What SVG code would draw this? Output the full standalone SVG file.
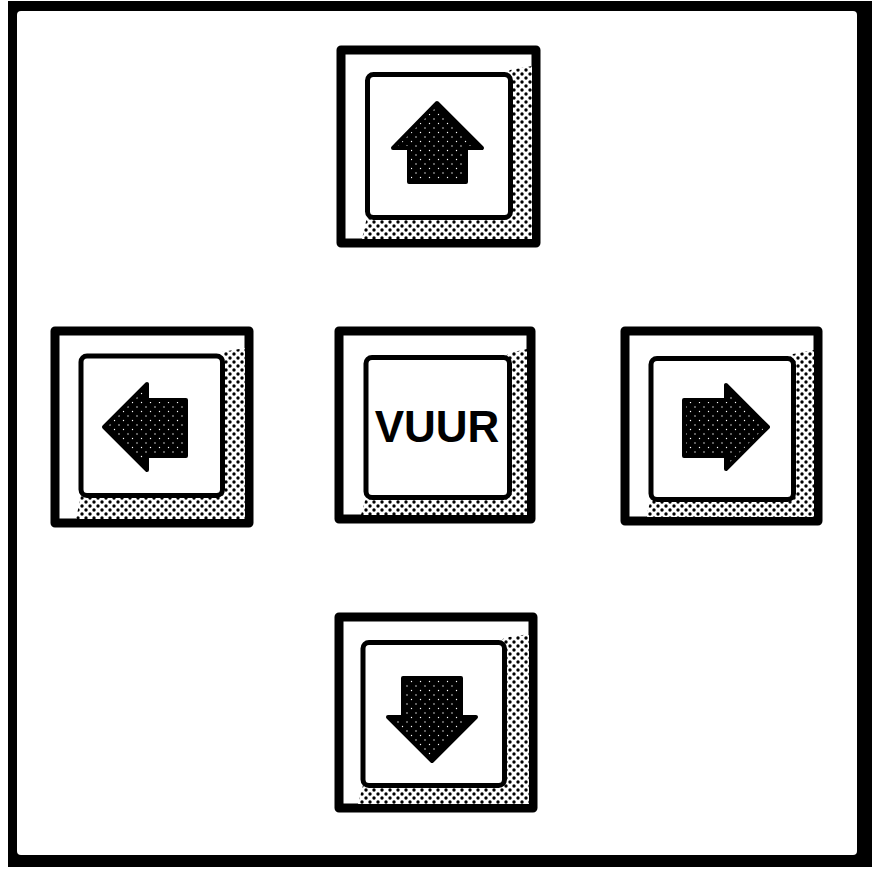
<svg xmlns="http://www.w3.org/2000/svg" width="874" height="869" viewBox="0 0 874 869">
<defs>
<pattern id="stip" width="8" height="8" patternUnits="userSpaceOnUse">
<rect width="8" height="8" fill="#fff"/>
<circle cx="2" cy="2" r="1.7" fill="#000"/>
<circle cx="6" cy="6" r="1.7" fill="#000"/>
</pattern>
<pattern id="dark" width="9" height="9" patternUnits="userSpaceOnUse">
<rect width="9" height="9" fill="#000"/>
<circle cx="2" cy="2" r="0.7" fill="#fff"/>
<circle cx="6.5" cy="6.5" r="0.7" fill="#fff"/>
</pattern>
<style>
.outer{fill:#fff;stroke:#000;stroke-width:9;stroke-linejoin:round}
.shadow{fill:url(#stip)}
.inner{fill:#fff;stroke:#000;stroke-width:5}
.arrow{fill:url(#dark);stroke:#000;stroke-width:4;stroke-linejoin:round}
.lbl{font-family:"Liberation Sans",Arial,sans-serif;font-weight:bold;font-size:44px;fill:#000}
</style>
</defs>
<g id="frame">
<rect x="8" y="1" width="864" height="866" fill="#000"/>
<rect x="17" y="11" width="840" height="844" rx="4" fill="#fff"/>
</g>
<g id="btn-up">
<rect class="outer" x="341" y="50" width="195" height="193"/>
<polygon class="shadow" points="510,70 532,66 532,239 362,239 367,217"/>
<rect class="inner" x="367.5" y="74.5" width="143" height="143" rx="6"/>
<polygon class="arrow" points="437,103 482,148 466,148 466,182 409,182 409,148 393,148"/>
</g>
<g id="btn-left">
<rect class="outer" x="55" y="331" width="194" height="192"/>
<polygon class="shadow" points="222,352 245,348 245,519 76,519 81,495"/>
<rect class="inner" x="81" y="356" width="141.5" height="139.5" rx="6"/>
<polygon class="arrow" points="104,427 147,384 147,400 186,400 186,456 147,456 147,470"/>
</g>
<g id="btn-fire">
<rect class="outer" x="339" y="331" width="192" height="188"/>
<polygon class="shadow" points="509,353 527,349 527,515 361,515 366,497"/>
<rect class="inner" x="366" y="357.5" width="143.5" height="140" rx="6"/>
<text class="lbl" x="437" y="442" text-anchor="middle">VUUR</text>
</g>
<g id="btn-right">
<rect class="outer" x="625" y="331" width="193" height="190"/>
<polygon class="shadow" points="793,354 814,350 814,517 646,517 651,499"/>
<rect class="inner" x="651" y="358.5" width="142.5" height="141" rx="6"/>
<polygon class="arrow" points="768,427 726,385 726,400 684,400 684,456 726,456 726,469"/>
</g>
<g id="btn-down">
<rect class="outer" x="339" y="617" width="194" height="191"/>
<polygon class="shadow" points="504,638 529,634 529,804 358,804 363,785"/>
<rect class="inner" x="363" y="642.5" width="141.5" height="143" rx="6"/>
<polygon class="arrow" points="432,761 476,717 461,717 461,678 403,678 403,717 388,717"/>
</g>
<g id="connectors"/>
</svg>
